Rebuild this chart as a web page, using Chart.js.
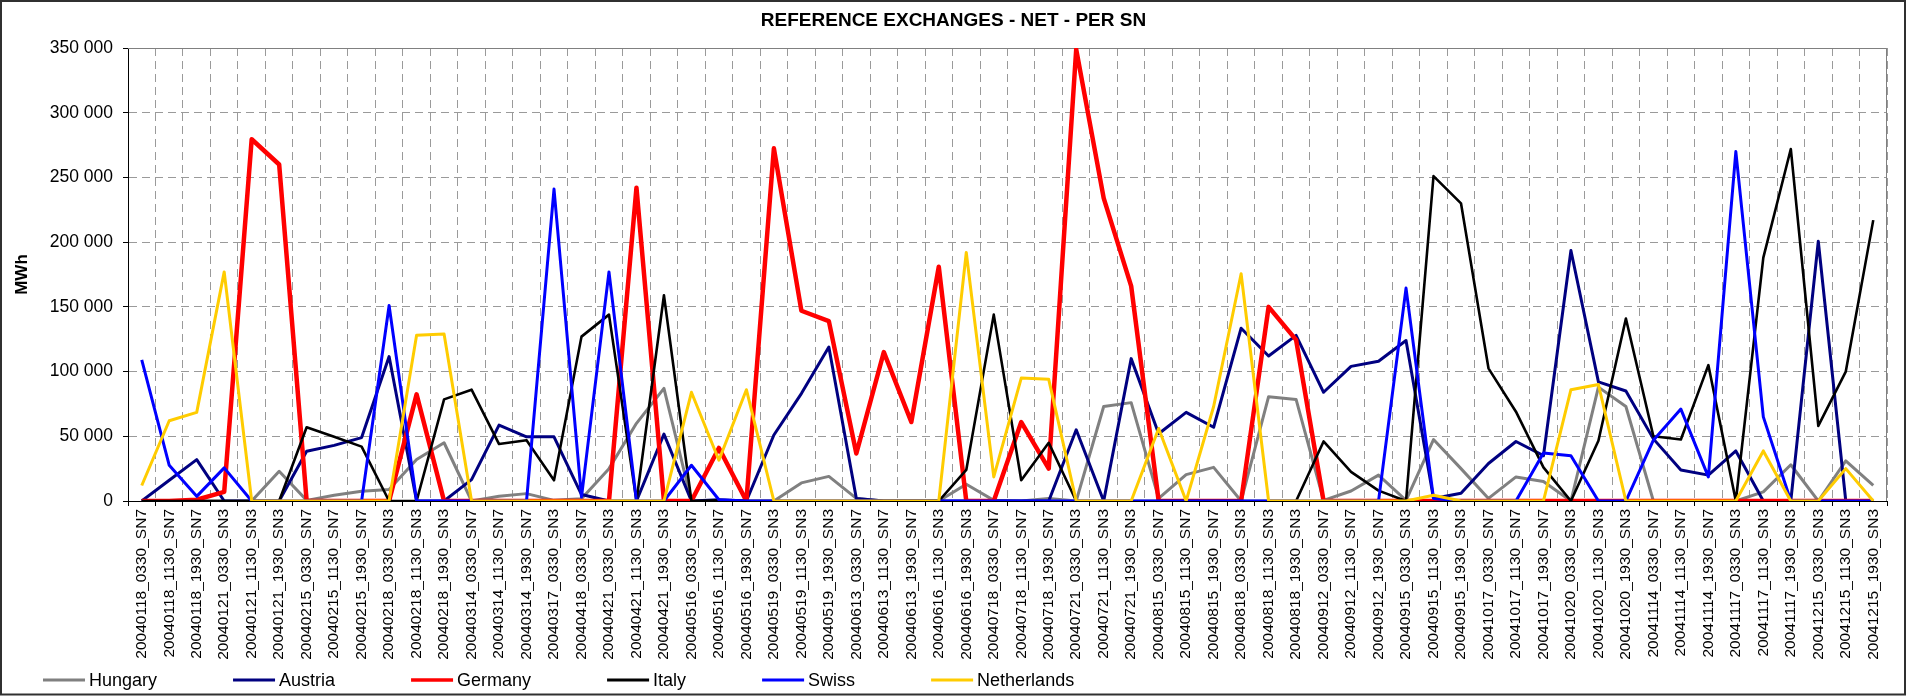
<!DOCTYPE html>
<html>
<head>
<meta charset="utf-8">
<script src="https://cdn.jsdelivr.net/npm/chart.js@4/dist/chart.umd.min.js"></script>
<style>
  html, body { margin: 0; padding: 0; background: #ffffff; overflow: hidden; }
  #wrap { position: relative; width: 1907px; height: 697px; }
</style>
</head>
<body>
<div id="wrap"><canvas id="c"></canvas></div>
<script>
const categories = [
  "20040118_0330_SN7","20040118_1130_SN7","20040118_1930_SN7","20040121_0330_SN3","20040121_1130_SN3","20040121_1930_SN3",
  "20040215_0330_SN7","20040215_1130_SN7","20040215_1930_SN7","20040218_0330_SN3","20040218_1130_SN3","20040218_1930_SN3",
  "20040314_0330_SN7","20040314_1130_SN7","20040314_1930_SN7","20040317_0330_SN3","20040418_0330_SN7","20040421_0330_SN3",
  "20040421_1130_SN3","20040421_1930_SN3","20040516_0330_SN7","20040516_1130_SN7","20040516_1930_SN7","20040519_0330_SN3",
  "20040519_1130_SN3","20040519_1930_SN3","20040613_0330_SN7","20040613_1130_SN7","20040613_1930_SN7","20040616_1130_SN3",
  "20040616_1930_SN3","20040718_0330_SN7","20040718_1130_SN7","20040718_1930_SN7","20040721_0330_SN3","20040721_1130_SN3",
  "20040721_1930_SN3","20040815_0330_SN7","20040815_1130_SN7","20040815_1930_SN7","20040818_0330_SN3","20040818_1130_SN3",
  "20040818_1930_SN3","20040912_0330_SN7","20040912_1130_SN7","20040912_1930_SN7","20040915_0330_SN3","20040915_1130_SN3",
  "20040915_1930_SN3","20041017_0330_SN7","20041017_1130_SN7","20041017_1930_SN7","20041020_0330_SN3","20041020_1130_SN3",
  "20041020_1930_SN3","20041114_0330_SN7","20041114_1130_SN7","20041114_1930_SN7","20041117_0330_SN3","20041117_1130_SN3",
  "20041117_1930_SN3","20041215_0330_SN3","20041215_1130_SN3","20041215_1930_SN3"
];

const hungary = [
  0,0,0,0,0,23000, 500,4400,7500,8800,32000,45000,
  0,3600,5700,500,1800,25000, 60000,87000,0,0,0,0,
  14000,19000,2000,0,0,0, 13000,500,0,2000,0,73000,
  76000,2000,20400,26000,0,80600, 78500,500,7700,20000,500,47500,
  25000,2000,18600,15000,0,88000, 73000,0,0,0,0,7000,
  28000,0,31000,12000
];
const austria = [
  0,16000,32000,0,0,0, 38500,43000,49000,111600,0,0,
  16500,58600,49600,49600,5000,0, 0,51700,0,1000,0,51000,
  83000,119000,2000,0,0,0, 0,0,0,0,55000,0,
  110000,52000,68500,57000,133500,112000, 128000,84000,104000,108000,124000,2000,
  6000,29000,46000,35000,193500,92000, 85000,48000,24000,20000,38700,0,
  0,200700,0,0
];
const germany = [
  0,0,1000,7000,279500,260000, 0,0,0,0,82400,0,
  0,0,0,0,0,0, 242000,0,0,41000,0,272500,
  147000,139000,36700,115000,61000,181000, 0,0,61000,25000,349000,234000,
  166000,0,0,0,0,150000, 124500,0,0,0,0,0,
  0,0,0,0,0,0, 0,0,0,0,0,0,
  0,0,0,0
];
const italy = [
  0,0,0,0,0,0, 57000,49600,42000,0,0,78500,
  86000,44000,47000,16000,127000,144000, 0,159000,0,500,0,0,
  0,0,0,0,0,0, 24000,144000,16000,45000,0,0,
  0,0,0,0,0,0, 0,46000,22500,8000,0,251000,
  230000,102500,69000,26000,0,46500, 141000,50000,47500,105000,0,188000,
  272000,58000,100000,217000
];
const swiss = [
  109000,27600,3600,25600,0,0, 0,0,0,151000,0,0,
  0,0,0,241000,3000,177000, 0,0,27600,1000,0,0,
  0,0,0,0,0,0, 0,0,0,0,0,0,
  0,0,0,0,0,0, 0,0,0,0,164500,2000,
  0,0,0,37000,35000,0, 0,47000,71000,18600,270000,65000,
  0,0,0,0
];
const netherlands = [
  12000,62000,68500,177000,0,0, 0,0,0,0,128000,129000,
  0,0,0,0,0,0, 0,0,84000,31500,86000,0,
  0,0,0,0,0,0, 192000,18600,95000,94000,0,0,
  0,56000,0,73000,175600,0, 0,0,0,0,0,4400,
  0,0,0,0,86000,90000, 0,0,0,0,0,38700,
  0,0,25000,0
];

const yTicks = [0, 50000, 100000, 150000, 200000, 250000, 300000, 350000];

const FONT = '"Liberation Sans", Arial, Helvetica, sans-serif';

function fmt(v) {
  return String(v).replace(/\B(?=(\d{3})+(?!\d))/g, ' ');
}

const frameAndLegend = {
  id: 'frameAndLegend',
  afterLayout(chart) {
    // centre the title on the whole canvas, as in the reference
    if (chart.titleBlock) {
      const w = chart.width;
      const r = chart.titleBlock.right;
      chart.titleBlock.left = w - r;
    }
  },
  beforeDraw(chart) {
    const ctx = chart.ctx;
    ctx.save();
    ctx.fillStyle = '#ffffff';
    ctx.fillRect(0, 0, chart.width, chart.height);
    ctx.restore();
  },
  beforeDatasetsDraw(chart) {
    const {ctx, chartArea: a} = chart;
    ctx.save();
    ctx.strokeStyle = '#808080';
    ctx.lineWidth = 1;
    ctx.beginPath();
    ctx.moveTo(a.left, a.top + 0.5);
    ctx.lineTo(a.right - 0.5, a.top + 0.5);
    ctx.lineTo(a.right - 0.5, a.bottom);
    ctx.stroke();
    ctx.restore();
  },
  afterDraw(chart) {
    const ctx = chart.ctx;
    ctx.save();
    // legend
    ctx.font = '18px ' + FONT;
    ctx.textBaseline = 'alphabetic';
    ctx.textAlign = 'left';
    let x = 43;
    const yLine = 680, yText = 686;
    chart.data.datasets.forEach(ds => {
      ctx.strokeStyle = ds.borderColor;
      ctx.lineWidth = ds.borderWidth > 4 ? 3.6 : 2.8;
      ctx.beginPath();
      ctx.moveTo(x, yLine);
      ctx.lineTo(x + 42, yLine);
      ctx.stroke();
      ctx.fillStyle = '#000000';
      ctx.fillText(ds.label, x + 46, yText);
      x += 46 + ctx.measureText(ds.label).width + 76;
    });
    // outer frame
    ctx.strokeStyle = '#303030';
    ctx.lineWidth = 2;
    ctx.strokeRect(1, 1, 1904, 693.5);
    ctx.restore();
  }
};

function ds(label, data, color, width, order) {
  return {
    label, data,
    borderColor: color, backgroundColor: color,
    borderWidth: width, borderJoinStyle: 'round',
    pointRadius: 0, pointHoverRadius: 0,
    tension: 0, fill: false, order
  };
}

new Chart(document.getElementById('c'), {
  type: 'line',
  data: {
    labels: categories,
    datasets: [
      ds('Hungary', hungary, '#808080', 3, 6),
      ds('Austria', austria, '#000080', 3, 5),
      ds('Germany', germany, '#ff0000', 4.5, 4),
      ds('Italy', italy, '#000000', 2.6, 3),
      ds('Swiss', swiss, '#0000ff', 3, 2),
      ds('Netherlands', netherlands, '#ffcc00', 3, 1)
    ]
  },
  options: {
    responsive: true,
    maintainAspectRatio: false,
    animation: false,
    devicePixelRatio: 1,
    layout: { padding: { left: 8, right: 20, top: 0, bottom: 36 } },
    plugins: {
      legend: { display: false },
      tooltip: { enabled: false },
      title: {
        display: true,
        text: 'REFERENCE EXCHANGES - NET - PER SN',
        color: '#000000',
        font: { family: FONT, size: 19, weight: 'bold', lineHeight: 1.2 },
        padding: { top: 9, bottom: 16.2 }
      }
    },
    scales: {
      x: {
        type: 'category',
        offset: true,
        grid: {
          offset: true,
          color: '#9a9a9a',
          lineWidth: 1,
          drawTicks: true,
          tickLength: 5,
          tickColor: '#000000',
          tickBorderDash: []
        },
        border: { display: true, color: '#000000', width: 1, dash: [8, 5] },
        ticks: {
          autoSkip: false,
          maxRotation: 90,
          minRotation: 90,
          padding: 3,
          color: '#000000',
          font: { family: FONT, size: 15.5 }
        },
        afterFit(scale) { scale.height = 160; }
      },
      y: {
        min: 0,
        max: 350000,
        afterBuildTicks(scale) { scale.ticks = yTicks.map(v => ({ value: v })); },
        grid: {
          color: '#9a9a9a',
          lineWidth: 1,
          drawTicks: true,
          tickLength: 5,
          tickColor: '#000000',
          tickBorderDash: []
        },
        border: { display: true, color: '#000000', width: 1, dash: [8, 5] },
        ticks: {
          padding: 10,
          color: '#000000',
          font: { family: FONT, size: 17.5 },
          callback: (v) => fmt(v)
        },
        title: {
          display: true,
          text: 'MWh',
          color: '#000000',
          font: { family: FONT, size: 17, weight: 'bold' },
          padding: { top: 4, bottom: 0 }
        },
        afterFit(scale) { scale.width = 120; }
      }
    }
  },
  plugins: [frameAndLegend]
});
</script>
</body>
</html>
